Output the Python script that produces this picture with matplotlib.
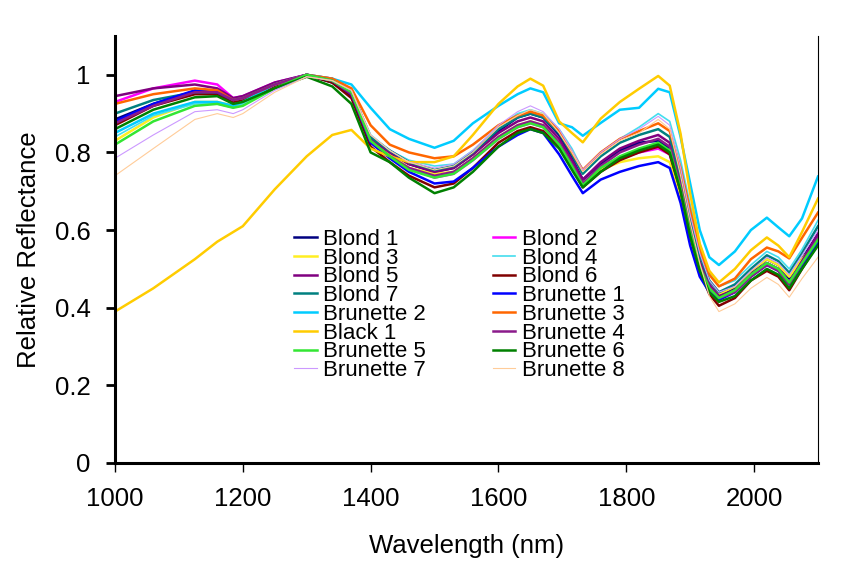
"""Relative NIR reflectance spectra of hair samples (1000-2100 nm)."""
import matplotlib
matplotlib.use("Agg")
import matplotlib.pyplot as plt

plt.rcParams["font.family"] = ["Liberation Sans", "DejaVu Sans"]

WAVELENGTH = [1000, 1060, 1125, 1160, 1185, 1200, 1250, 1300, 1340, 1370,
              1400, 1430, 1460, 1500, 1530, 1560, 1600, 1630, 1650, 1670,
              1695, 1715, 1732, 1760, 1790, 1820, 1850, 1868, 1885, 1900,
              1915, 1930, 1945, 1970, 1995, 2020, 2038, 2055, 2075, 2100]

BLOND_1 = [0.885, 0.925, 0.958, 0.955, 0.935, 0.94, 0.975, 1.0, 0.98, 0.945,
           0.835, 0.80, 0.77, 0.75, 0.76, 0.795, 0.855, 0.89, 0.90, 0.89,
           0.845, 0.785, 0.73, 0.77, 0.805, 0.825, 0.83, 0.81, 0.70, 0.59,
           0.50, 0.45, 0.43, 0.45, 0.49, 0.525, 0.51, 0.475, 0.525, 0.59]
BLOND_2 = [0.93, 0.965, 0.985, 0.975, 0.94, 0.945, 0.98, 1.0, 0.985, 0.955,
           0.83, 0.79, 0.76, 0.735, 0.745, 0.78, 0.835, 0.865, 0.875, 0.865,
           0.82, 0.765, 0.715, 0.755, 0.785, 0.80, 0.81, 0.795, 0.70, 0.59,
           0.505, 0.45, 0.425, 0.445, 0.485, 0.515, 0.50, 0.465, 0.515, 0.58]
BLOND_3 = [0.83, 0.89, 0.93, 0.93, 0.92, 0.925, 0.97, 1.0, 0.985, 0.955,
           0.835, 0.795, 0.76, 0.745, 0.75, 0.785, 0.84, 0.87, 0.88, 0.87,
           0.825, 0.77, 0.72, 0.755, 0.775, 0.785, 0.79, 0.775, 0.68, 0.58,
           0.50, 0.455, 0.435, 0.455, 0.495, 0.525, 0.51, 0.48, 0.525, 0.575]
BLOND_4 = [0.84, 0.895, 0.925, 0.925, 0.915, 0.925, 0.97, 1.0, 0.985, 0.96,
           0.845, 0.805, 0.78, 0.765, 0.77, 0.805, 0.865, 0.90, 0.91, 0.90,
           0.86, 0.81, 0.755, 0.80, 0.835, 0.865, 0.90, 0.88, 0.78, 0.665,
           0.565, 0.49, 0.455, 0.47, 0.51, 0.545, 0.53, 0.50, 0.55, 0.625]
BLOND_5 = [0.945, 0.965, 0.975, 0.965, 0.94, 0.945, 0.98, 1.0, 0.99, 0.96,
           0.835, 0.80, 0.77, 0.75, 0.76, 0.795, 0.85, 0.88, 0.89, 0.88,
           0.835, 0.78, 0.73, 0.775, 0.81, 0.83, 0.845, 0.825, 0.72, 0.61,
           0.52, 0.46, 0.43, 0.445, 0.485, 0.515, 0.50, 0.465, 0.52, 0.59]
BLOND_6 = [0.87, 0.92, 0.95, 0.95, 0.93, 0.935, 0.97, 1.0, 0.98, 0.94,
           0.815, 0.775, 0.74, 0.71, 0.72, 0.76, 0.825, 0.855, 0.865, 0.855,
           0.815, 0.76, 0.71, 0.75, 0.78, 0.80, 0.815, 0.795, 0.70, 0.585,
           0.495, 0.435, 0.405, 0.425, 0.47, 0.495, 0.48, 0.445, 0.50, 0.565]
BLOND_7 = [0.90, 0.935, 0.955, 0.955, 0.935, 0.94, 0.975, 1.0, 0.985, 0.955,
           0.84, 0.805, 0.775, 0.755, 0.765, 0.80, 0.86, 0.89, 0.90, 0.89,
           0.85, 0.795, 0.745, 0.79, 0.825, 0.845, 0.86, 0.84, 0.74, 0.63,
           0.535, 0.47, 0.44, 0.46, 0.50, 0.535, 0.52, 0.49, 0.54, 0.61]
BRUNETTE_1 = [0.88, 0.925, 0.96, 0.955, 0.935, 0.94, 0.975, 1.0, 0.985, 0.95,
              0.825, 0.785, 0.75, 0.72, 0.725, 0.76, 0.815, 0.845, 0.86, 0.85,
              0.795, 0.74, 0.695, 0.73, 0.75, 0.765, 0.775, 0.76, 0.67, 0.56,
              0.48, 0.44, 0.42, 0.44, 0.48, 0.51, 0.495, 0.46, 0.51, 0.57]
BRUNETTE_2 = [0.85, 0.90, 0.93, 0.93, 0.92, 0.93, 0.975, 1.0, 0.99, 0.975,
              0.915, 0.86, 0.835, 0.812, 0.83, 0.875, 0.92, 0.95, 0.965, 0.955,
              0.875, 0.865, 0.843, 0.876, 0.91, 0.915, 0.964, 0.955, 0.84, 0.72,
              0.60, 0.53, 0.51, 0.545, 0.60, 0.632, 0.607, 0.584, 0.63, 0.738]
BRUNETTE_3 = [0.925, 0.95, 0.965, 0.96, 0.935, 0.94, 0.975, 1.0, 0.99, 0.965,
              0.87, 0.82, 0.80, 0.785, 0.79, 0.82, 0.87, 0.895, 0.905, 0.895,
              0.855, 0.80, 0.755, 0.80, 0.835, 0.855, 0.875, 0.855, 0.76, 0.65,
              0.55, 0.485, 0.455, 0.475, 0.525, 0.555, 0.545, 0.527, 0.58, 0.645]
BLACK_1 = [0.39, 0.45, 0.525, 0.57, 0.595, 0.61, 0.705, 0.79, 0.845, 0.858,
           0.81, 0.79, 0.775, 0.775, 0.79, 0.845, 0.925, 0.97, 0.99, 0.972,
           0.88, 0.85, 0.826, 0.887, 0.93, 0.964, 0.997, 0.972, 0.848, 0.694,
           0.565, 0.495, 0.465, 0.50, 0.548, 0.581, 0.56, 0.53, 0.595, 0.681]
BRUNETTE_4 = [0.875, 0.92, 0.955, 0.955, 0.935, 0.94, 0.975, 1.0, 0.985, 0.95,
              0.83, 0.79, 0.76, 0.74, 0.75, 0.785, 0.84, 0.87, 0.88, 0.87,
              0.825, 0.77, 0.72, 0.765, 0.80, 0.82, 0.835, 0.815, 0.715, 0.60,
              0.51, 0.455, 0.425, 0.44, 0.48, 0.51, 0.495, 0.46, 0.515, 0.58]
BRUNETTE_5 = [0.82, 0.88, 0.92, 0.925, 0.915, 0.92, 0.965, 1.0, 0.985, 0.955,
              0.83, 0.79, 0.755, 0.735, 0.745, 0.78, 0.835, 0.865, 0.875, 0.865,
              0.82, 0.765, 0.715, 0.76, 0.79, 0.81, 0.825, 0.805, 0.705, 0.595,
              0.505, 0.45, 0.425, 0.445, 0.485, 0.515, 0.50, 0.465, 0.515, 0.575]
BRUNETTE_6 = [0.86, 0.91, 0.942, 0.945, 0.925, 0.93, 0.965, 0.995, 0.97, 0.925,
              0.80, 0.775, 0.735, 0.695, 0.71, 0.75, 0.815, 0.85, 0.86, 0.85,
              0.81, 0.755, 0.71, 0.75, 0.785, 0.805, 0.82, 0.80, 0.70, 0.585,
              0.495, 0.44, 0.415, 0.43, 0.47, 0.50, 0.485, 0.45, 0.50, 0.56]
BRUNETTE_7 = [0.785, 0.845, 0.905, 0.91, 0.90, 0.91, 0.96, 0.995, 0.985, 0.96,
              0.845, 0.805, 0.775, 0.76, 0.77, 0.805, 0.87, 0.905, 0.92, 0.905,
              0.86, 0.805, 0.755, 0.80, 0.835, 0.86, 0.893, 0.87, 0.76, 0.64,
              0.54, 0.47, 0.44, 0.455, 0.495, 0.53, 0.515, 0.485, 0.535, 0.60]
BRUNETTE_8 = [0.74, 0.81, 0.885, 0.90, 0.89, 0.90, 0.955, 0.995, 0.985, 0.96,
              0.845, 0.805, 0.775, 0.755, 0.765, 0.80, 0.865, 0.895, 0.91, 0.90,
              0.85, 0.80, 0.75, 0.795, 0.83, 0.85, 0.885, 0.86, 0.74, 0.62,
              0.515, 0.43, 0.39, 0.41, 0.45, 0.478, 0.46, 0.427, 0.475, 0.53]

LABELS = ["Blond 1", "Blond 2", "Blond 3", "Blond 4", "Blond 5", "Blond 6",
          "Blond 7", "Brunette 1", "Brunette 2", "Brunette 3", "Black 1",
          "Brunette 4", "Brunette 5", "Brunette 6", "Brunette 7", "Brunette 8"]
SERIES = [BLOND_1, BLOND_2, BLOND_3, BLOND_4, BLOND_5, BLOND_6, BLOND_7,
          BRUNETTE_1, BRUNETTE_2, BRUNETTE_3, BLACK_1, BRUNETTE_4,
          BRUNETTE_5, BRUNETTE_6, BRUNETTE_7, BRUNETTE_8]

COLORS = ["#000080", "#FF00FF", "#FFEE22", "#44DDEE", "#800080", "#800000",
          "#008080", "#0000FF", "#00CCFF", "#FF6600", "#FFCC00", "#8B1A8B",
          "#33E633", "#008000", "#CC99FF", "#FFCC99"]
WIDTHS = [1.8, 1.8, 1.8, 1.2, 1.8, 1.8, 1.8, 1.8, 1.8, 1.8, 1.8, 1.8,
          1.8, 1.8, 0.8, 0.8]


def main() -> None:
    fig = plt.figure(figsize=(8.56, 5.84), dpi=100)
    ax = fig.add_axes([0.1343, 0.2072, 0.8213, 0.7312])

    handles = []
    for y, lab, col, lw in zip(SERIES, LABELS, COLORS, WIDTHS):
        (ln,) = ax.plot(WAVELENGTH, y, color=col, lw=lw, label=lab)
        handles.append(ln)

    ax.set_xlim(1000, 2100)
    ax.set_ylim(0, 1.1)
    ax.set_xticks([1000, 1200, 1400, 1600, 1800, 2000])
    ax.set_yticks([0, 0.2, 0.4, 0.6, 0.8, 1.0])
    ax.set_yticklabels(["0", "0.2", "0.4", "0.6", "0.8", "1"])
    ax.tick_params(axis="both", labelsize=18.5, direction="out", length=6.5, pad=11)
    ax.tick_params(axis="y", width=2)
    ax.tick_params(axis="x", width=1)

    ax.spines["top"].set_visible(False)
    ax.spines["left"].set_linewidth(2.2)
    ax.spines["bottom"].set_linewidth(2.2)
    ax.spines["right"].set_linewidth(0.8)

    ax.set_xlabel("Wavelength (nm)", fontsize=18.5, labelpad=16)
    ax.set_ylabel("Relative Reflectance", fontsize=18.5, labelpad=10)

    # excel-style legend reads row-wise: reorder for matplotlib's column fill
    order = list(range(0, 16, 2)) + list(range(1, 16, 2))
    leg = ax.legend([handles[i] for i in order], [LABELS[i] for i in order],
                    ncol=2, loc="center", bbox_to_anchor=(0.49, 0.37),
                    fontsize=16, frameon=True, fancybox=False, framealpha=1,
                    edgecolor="none", facecolor="white", labelspacing=-0.1,
                    handlelength=1.0, handletextpad=0.3, columnspacing=3.0,
                    borderpad=0.6)
    leg.get_frame().set_linewidth(0)

    fig.savefig("out.png", dpi=100)


if __name__ == "__main__":
    main()
